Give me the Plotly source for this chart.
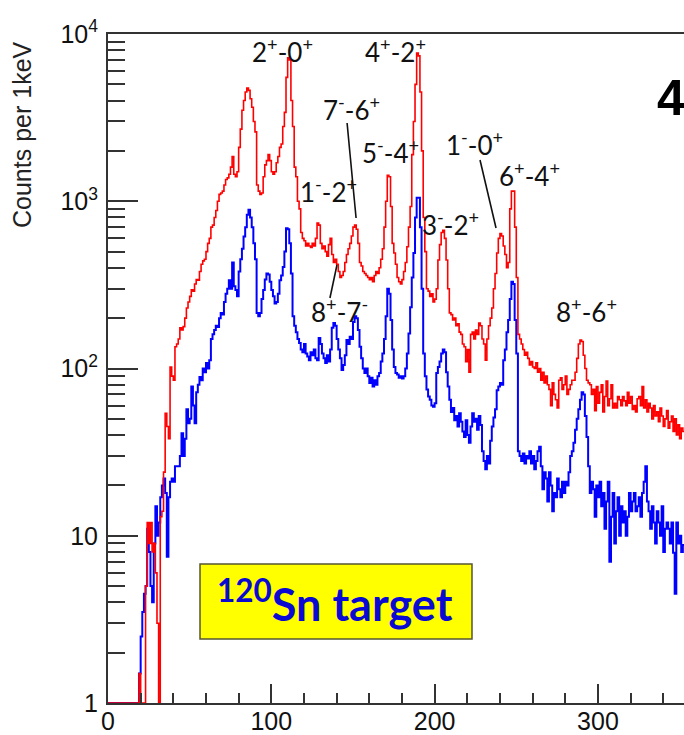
import numpy as np
import plotly.graph_objects as go

# Gamma-ray spectra, 1 keV bins starting at 0 keV (counts per bin)
bin_width = 1.0

red_counts = [
    1, 1, 1, 1, 1, 1, 1, 1, 1, 1,
    1, 1, 1, 1, 1, 1, 1, 1, 1, 1.5,
    1, 1, 1, 5, 12, 9, 12, 8, 9, 6,
    3, 1, 13, 14, 24, 54, 45, 38, 102, 90,
    85, 135, 140, 150, 175, 170, 178, 200, 230, 250,
    270, 295, 290, 320, 340, 337, 380, 420, 440, 450,
    500, 560, 600, 700, 720, 800, 880, 1000, 1100, 1120,
    1150, 1250, 1350, 1380, 1450, 1600, 1850, 1450, 1400, 1500,
    2100, 2700, 3500, 4000, 4500, 4750, 4600, 4100, 3650, 3000,
    2600, 1250, 1150, 1100, 1120, 1400, 1650, 1750, 1900, 1750,
    1500, 1450, 1500, 1700, 1850, 2100, 2200, 2800, 3400, 5500,
    7200, 7000, 4000, 2800, 1600, 1400, 1000, 900, 650, 600,
    580, 540, 560, 540, 530, 560, 540, 600, 740, 720,
    560, 520, 540, 500, 470, 550, 600, 480, 430, 450,
    420, 380, 350, 360, 380, 430, 480, 520, 560, 620,
    700, 720, 680, 560, 430, 410, 380, 370, 360, 350,
    340, 350, 330, 360, 380, 370, 400, 450, 520, 700,
    1000, 1430, 1400, 930, 560, 490, 420, 350, 330, 320,
    340, 380, 430, 535, 700, 930, 1900, 3000, 5000, 7700,
    7400, 4500, 2000, 800, 500, 300, 290, 270, 280, 250,
    260, 300, 445, 550, 650, 670, 600, 445, 300, 215,
    210, 195, 200, 180, 185, 165, 160, 140, 135, 110,
    130, 95, 160, 165, 150, 170, 160, 187, 180, 150,
    140, 112, 150, 180, 200, 230, 300, 370, 490, 600,
    640, 620, 540, 480, 400, 430, 900, 1150, 1150, 700,
    350, 160, 150, 140, 130, 120, 125, 115, 105, 110,
    102, 100, 108, 95, 100, 85, 95, 82, 90, 80,
    75, 60, 82, 70, 65, 58, 85, 88, 75, 80,
    90, 70, 75, 80, 85, 85, 95, 115, 140, 148,
    145, 120, 100, 85, 82, 80, 70, 75, 56, 78,
    62, 72, 80, 55, 68, 84, 60, 66, 80, 58,
    62, 58, 68, 65, 60, 68, 64, 60, 72, 62,
    68, 57, 60, 55, 66, 68, 60, 78, 58, 65,
    55, 62, 58, 50, 60, 52, 55, 48, 58, 52,
    45, 50, 56, 44, 48, 52, 42, 50, 40, 46,
    38, 44, 42,
]

blue_counts = [
    1, 1, 1, 1, 1, 1, 1, 1, 1, 1,
    1, 1, 1, 1, 1, 1, 1, 1, 1, 1.5,
    2.5, 3.5, 4.5, 5, 11, 8, 5, 4, 9, 15,
    10, 12, 17, 20, 22, 18, 7.5, 17, 21, 22,
    21, 26, 26, 26, 30, 41, 30, 38, 57, 47,
    50, 78, 60, 47, 72, 80, 89, 85, 100, 95,
    108, 100, 112, 150, 160, 170, 180, 177, 200, 215,
    210, 250, 280, 300, 337, 300, 430, 310, 295, 270,
    380, 450, 520, 615, 700, 830, 890, 800, 700, 560,
    450, 215, 205, 215, 260, 295, 340, 370, 365, 330,
    295, 270, 245, 250, 280, 337, 360, 405, 500, 690,
    680, 560, 370, 205, 180, 165, 150, 142, 130, 125,
    140, 123, 118, 112, 125, 120, 130, 115, 112, 152,
    140, 123, 115, 108, 120, 110, 130, 175, 187, 180,
    150, 130, 115, 98, 105, 120, 148, 140, 155, 150,
    190, 205, 200, 170, 135, 115, 100, 94, 100, 90,
    82, 88, 78, 85, 80, 90, 94, 110, 123, 150,
    205, 300, 280, 195, 130, 102, 94, 92, 88, 90,
    87, 90, 100, 123, 162, 232, 350, 490, 800, 1050,
    1050, 700, 300, 123, 90, 75, 68, 65, 60, 59,
    62, 94, 102, 110, 123, 130, 125, 95, 78, 65,
    55, 58, 49, 52, 45, 54, 48, 42, 39, 49,
    40, 36, 45, 54, 48, 50, 43, 52, 46, 32,
    28, 25, 30, 27, 37, 45, 51, 57, 74, 78,
    82, 80, 112, 130, 165, 195, 260, 330, 320, 195,
    123, 32, 30, 28, 31, 27, 30, 29, 32, 27,
    30, 25, 28, 32, 34, 26, 19, 24, 22, 16,
    24, 20, 14, 18, 17, 22, 19, 17, 21, 18,
    21, 20, 24, 30, 32, 36, 43, 50, 57, 65,
    72, 70, 52, 39, 26, 18, 21, 19, 13, 20,
    17, 21, 15, 18, 11, 16, 21, 7, 13, 18,
    9, 14, 17, 10, 15, 12, 14, 10, 13, 18,
    14, 16, 18, 14, 15, 17, 13, 18, 21, 26,
    16, 14, 11, 15, 12, 9, 14, 12, 10, 15,
    8, 11, 12, 11, 9, 12, 7.9, 4.5, 12, 9,
    10, 8, 8.8,
]

# Axis ticks
y_tick_vals = [1, 10, 100, 1000, 10000]
y_tick_text = ["1", "10", "10<sup>2</sup>", "10<sup>3</sup>", "10<sup>4</sup>"]
y_minor_vals = [m * 10 ** k for k in range(4) for m in range(2, 10)]
x_tick_vals = [0, 100, 200, 300]
x_minor_vals = [v for v in range(20, 360, 20) if v % 100]

# Transition labels: text, energy (keV), counts level
line_labels = ["2<sup>+</sup>-0<sup>+</sup>", "4<sup>+</sup>-2<sup>+</sup>",
               "7<sup>-</sup>-6<sup>+</sup>", "5<sup>-</sup>-4<sup>+</sup>",
               "1<sup>-</sup>-2<sup>+</sup>", "1<sup>-</sup>-0<sup>+</sup>",
               "6<sup>+</sup>-4<sup>+</sup>", "3<sup>-</sup>-2<sup>+</sup>",
               "8<sup>+</sup>-7<sup>-</sup>", "8<sup>+</sup>-6<sup>+</sup>"]
label_kev = [106.6, 175.8, 148.8, 172.7, 135.3, 224.7, 257.8, 210.0, 141.5, 293.3]
label_counts = [8020, 8020, 3605, 1995, 1167, 2203, 1455, 741, 221, 221]

# Leader lines from labels to their peaks: (keV0, counts0, keV1, counts1)
leader_lines = [
    (146.4, 2938, 151.9, 794),
    (227.8, 1765, 237.6, 692),
    (140.2, 416, 135.9, 264),
]

fig = go.Figure()

def step_trace(counts, color, width):
    edges = np.arange(len(counts) + 1) * bin_width
    yvals = list(counts) + [counts[-1]]
    return go.Scatter(x=edges, y=yvals, mode="lines", line_shape="hv",
                      line=dict(color=color, width=width), hoverinfo="skip")

fig.add_trace(step_trace(blue_counts, "#0000FF", 2))
fig.add_trace(step_trace(red_counts, "#FF0000", 1.6))

for x0, y0, x1, y1 in leader_lines:
    fig.add_trace(go.Scatter(x=[x0, x1], y=[y0, y1], mode="lines",
                             line=dict(color="#111111", width=1.6), hoverinfo="skip"))

label_font = dict(family="Lato, Open Sans, sans-serif", size=26, color="#111111")
for txt, kx, cy in zip(line_labels, label_kev, label_counts):
    fig.add_annotation(x=kx, y=np.log10(cy), xref="x", yref="y", text=txt,
                       showarrow=False, font=label_font, xanchor="center", yanchor="middle")

# Frame geometry in pixels
L, T, B = 108, 34, 703
PW, PH = 576, B - T
def px_x(p):
    return (p - L) / PW
def px_y(p):
    return (B - p) / PH

# Target box
fig.add_shape(type="rect", xref="paper", yref="paper",
              x0=px_x(200), x1=px_x(472), y0=px_y(639), y1=px_y(564),
              fillcolor="#FFFF00", line=dict(color="#555533", width=1.5), layer="above")
fig.add_annotation(xref="paper", yref="paper", x=px_x(335), y=px_y(601),
                   text="<b><sup>120</sup>Sn target</b>", showarrow=False,
                   font=dict(family="Lato, Open Sans, sans-serif", size=45, color="#0A0AD2"),
                   xanchor="center", yanchor="middle")

# Panel number
fig.add_annotation(xref="paper", yref="paper", x=px_x(655), y=px_y(98),
                   text="<b>4</b>", showarrow=False,
                   font=dict(family="Liberation Sans, Arial, sans-serif", size=50, color="#000000"),
                   xanchor="left", yanchor="middle")

# Y-axis title
fig.add_annotation(xref="paper", yref="paper", x=px_x(22), y=px_y(135),
                   text="Counts per 1keV", showarrow=False, textangle=-90,
                   font=dict(family="Liberation Sans, Arial, sans-serif", size=25, color="#222222"),
                   xanchor="center", yanchor="middle")

axis_font = dict(family="Liberation Sans, Arial, sans-serif", size=25, color="#111111")
fig.update_xaxes(range=[0, 352.7], showline=True, linecolor="#333333", linewidth=2, mirror=True,
                 ticks="inside", ticklen=19, tickwidth=2, tickcolor="#333333",
                 tickmode="array", tickvals=x_tick_vals, tickfont=axis_font,
                 showgrid=False, zeroline=False, ticklabelstandoff=-5, automargin=False,
                 minor=dict(tickmode="array", tickvals=x_minor_vals, ticks="inside",
                            ticklen=10, tickwidth=2, tickcolor="#333333", showgrid=False))
fig.update_yaxes(type="log", range=[0, 4], showline=True, linecolor="#333333", linewidth=2,
                 ticks="inside", ticklen=30, tickwidth=2, tickcolor="#333333",
                 tickmode="array", tickvals=y_tick_vals, ticktext=y_tick_text, tickfont=axis_font,
                 showgrid=False, zeroline=False, ticklabelstandoff=3, automargin=False,
                 minor=dict(tickmode="array", tickvals=y_minor_vals, ticks="inside",
                            ticklen=17, tickwidth=2, tickcolor="#333333", showgrid=False))

fig.update_layout(width=684, height=735, margin=dict(l=L, r=0, t=T, b=735 - B),
                  plot_bgcolor="white", paper_bgcolor="white", showlegend=False)

fig.write_html("out.html")
